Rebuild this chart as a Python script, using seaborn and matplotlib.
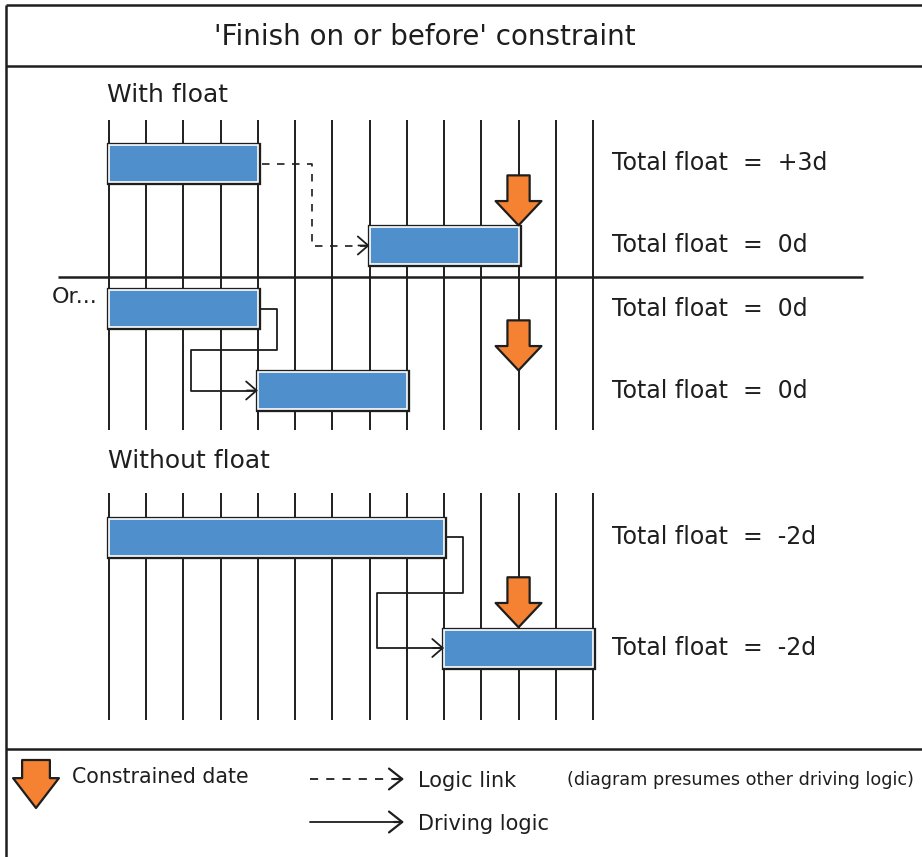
import numpy as np
import matplotlib
matplotlib.use("Agg")
import matplotlib.pyplot as plt
import matplotlib.patheffects as pe
import seaborn as sns

# day columns of the schedule grid and the constrained finish date
grid_days = list(range(14))
constraint_day = 11

# 'With float' panel: two tasks linked by (non driving) logic
with_start = [0, 7]
with_duration = [4, 4]
with_float = ["+3d", "0d"]

# 'Or...' panel: same tasks, driving logic
or_start = [0, 4]
or_duration = [4, 4]
or_float = ["0d", "0d"]

# 'Without float' panel
without_start = [0, 9]
without_duration = [9, 4]
without_float = ["-2d", "-2d"]

BLUE = "#4F8FCC"
ORANGE = "#F58232"
INK = "#1e1e1e"

sns.set_theme(style="white")
plt.rcParams["font.family"] = ["DejaVu Sans"]

W, H = 922, 857
fig = plt.figure(figsize=(W / 100, H / 100), dpi=100)
fig.patch.set_facecolor("white")

# background axes in pixel units for the frame, headings and key
bg = fig.add_axes([0, 0, 1, 1])
bg.set_xlim(0, W)
bg.set_ylim(H, 0)
bg.axis("off")


def make_panel(top, bottom, first_row, row_gap):
    """axes with x in days and y in task rows, placed on a pixel box"""
    x0, x1 = 109, 593
    ax = fig.add_axes([x0 / W, 1 - bottom / H, (x1 - x0) / W, (bottom - top) / H])
    ax.set_xlim(0, 13)
    ax.set_ylim(1 + (bottom - first_row - row_gap) / row_gap, -(first_row - top) / row_gap)
    ax.axis("off")
    return ax


def constraint_arrow(ax, xy, length_px, body, head_w, head_l, coords="data"):
    ax.annotate("", xy=xy, xycoords=coords, xytext=(0, length_px), textcoords="offset pixels",
                arrowprops=dict(arrowstyle=f"simple,head_length={head_l},head_width={head_w},tail_width={body}",
                                mutation_scale=1, fc=ORANGE, ec=INK, lw=1.6, shrinkA=0, shrinkB=0),
                zorder=6, annotation_clip=False)


def chevron(ax, x, y, back):
    ax.annotate("", xy=(x, y), xytext=(x - back, y),
                arrowprops=dict(arrowstyle="->,head_length=7.5,head_width=6.5", mutation_scale=1,
                                color=INK, lw=1.3, shrinkA=0, shrinkB=0), zorder=4)


def draw_panel(ax, starts, durations, floats, row_gap, link):
    rows = np.arange(len(starts))
    y_lo, y_hi = ax.get_ylim()
    ax.vlines(grid_days, y_lo, y_hi, color=INK, lw=1.4, zorder=1, clip_on=False)
    h = 37 / row_gap
    bars = ax.barh(rows, durations, left=starts, height=h, color=BLUE,
                   edgecolor="white", lw=1.2, zorder=3)
    for b in bars:
        b.set_clip_on(False)
        b.set_path_effects([pe.Stroke(linewidth=3.8, foreground=INK), pe.Normal()])

    end0 = starts[0] + durations[0]
    nxt = starts[1]
    if link == "dashed":
        xs = [end0 + 0.12, end0 + 1.45, end0 + 1.45, nxt]
        ys = [0, 0, 1, 1]
        ax.plot(xs, ys, color=INK, lw=1.2, ls=(0, (4.5, 4.5)), zorder=2)
    else:
        xs = [end0, end0 + 0.5, end0 + 0.5, nxt - 1.8, nxt - 1.8, nxt]
        ys = [0, 0, 0.5, 0.5, 1, 1]
        ax.plot(xs, ys, color=INK, lw=1.3, zorder=2)
    chevron(ax, nxt, 1, 0.3)

    constraint_arrow(ax, (constraint_day, 1 - h / 2 - 0.02), 50, 16, 33, 17.5)

    for r, f in zip(rows, floats):
        ax.text(13.5, r, f"Total float  =  {f}", va="center", ha="left",
                fontsize=17, color=INK, clip_on=False)


ax_with = make_panel(120, 277, 163.5, 82)
draw_panel(ax_with, with_start, with_duration, with_float, 82, "dashed")

ax_or = make_panel(277, 430, 308.5, 82)
draw_panel(ax_or, or_start, or_duration, or_float, 82, "solid")

ax_without = make_panel(493, 720, 537, 111)
draw_panel(ax_without, without_start, without_duration, without_float, 111, "solid")

# frame
line_kw = dict(color=INK, lw=1.8, solid_capstyle="butt")
bg.plot([6, 6], [5, H], **line_kw)
bg.plot([6, W], [5, 5], **line_kw)
bg.plot([6, W], [66, 66], **line_kw)
bg.plot([6, W], [749, 749], **line_kw)
bg.plot([58, 863], [277, 277], **line_kw)

bg.text(425, 37, "'Finish on or before' constraint", ha="center", va="center",
        fontsize=20, color=INK)
bg.text(107, 95, "With float", va="center", fontsize=18, color=INK)
bg.text(52, 297, "Or...", va="center", fontsize=16, color=INK)
bg.text(108, 461, "Without float", va="center", fontsize=18, color=INK)

# key
constraint_arrow(bg, (36, 808), 48, 20, 33, 21.5)
bg.text(72, 777, "Constrained date", va="center", fontsize=14.8, color=INK)
bg.plot([310, 400], [779, 779], color=INK, lw=1.3, ls=(0, (4.5, 4.5)))
bg.annotate("", xy=(404, 779), xytext=(394, 779),
            arrowprops=dict(arrowstyle="->,head_length=9.5,head_width=7.5", mutation_scale=1,
                            color=INK, lw=1.6, shrinkA=0, shrinkB=0))
bg.text(418, 781, "Logic link", va="center", fontsize=15, color=INK)
bg.text(567, 780, "(diagram presumes other driving logic)", va="center", fontsize=12.7, color=INK)
bg.plot([310, 400], [822, 822], color=INK, lw=1.3)
bg.annotate("", xy=(404, 822), xytext=(394, 822),
            arrowprops=dict(arrowstyle="->,head_length=9.5,head_width=7.5", mutation_scale=1,
                            color=INK, lw=1.6, shrinkA=0, shrinkB=0))
bg.text(418, 824, "Driving logic", va="center", fontsize=15, color=INK)

fig.savefig("out.png", dpi=100, facecolor="white")
